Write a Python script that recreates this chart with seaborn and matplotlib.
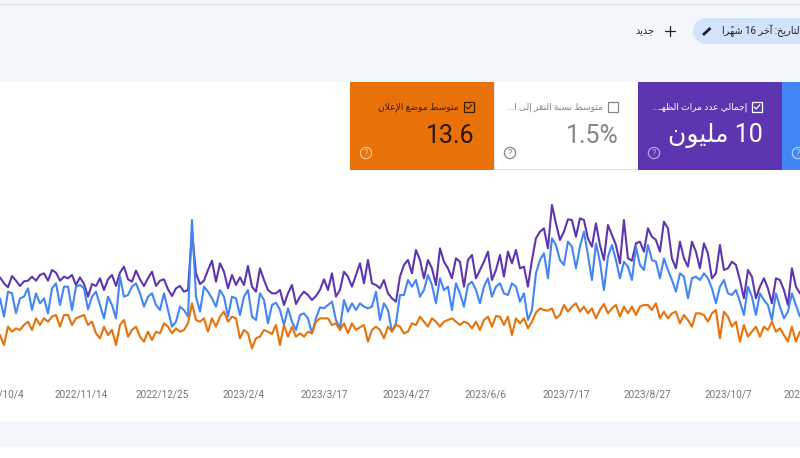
import re
import pandas as pd
import numpy as np
import matplotlib
matplotlib.use("Agg")
import matplotlib.pyplot as plt
from matplotlib.patches import Rectangle, Circle
import seaborn as sns

# readings, arbitrary units (axis has no scale in the screenshot)
impressions = [
    248, 230, 218, 252, 238, 222, 236, 238, 250, 238, 255, 260, 238, 270, 262, 238, 250, 245, 255, 225,
    248, 228, 190, 228, 222, 245, 210, 242, 255, 222, 262, 280, 242, 235, 268, 242, 222, 245, 265, 222,
    238, 242, 212, 192, 215, 222, 205, 210, 385, 260, 228, 238, 270, 298, 235, 290, 265, 215, 255, 225,
    248, 225, 282, 220, 205, 275, 240, 210,
    200, 200, 210, 165, 200, 225, 168, 190, 205, 195, 180, 192, 210, 242, 210, 260, 190, 210, 265, 250,
    220, 255, 290, 230, 300, 230, 225, 215, 240, 200, 185, 175, 250, 285, 300, 260, 330, 300, 245, 300,
    275, 225, 335, 295, 275, 245, 305, 295, 220, 300, 315, 245, 270, 295, 325, 240, 270, 315, 250, 325,
    290, 330, 275, 280, 220, 300, 365, 385,
    395, 335, 465, 410, 360, 385, 422, 420, 370, 425, 420, 365, 340, 410, 345, 300, 405, 375, 345, 290,
    420, 305, 298, 350, 355, 325, 395, 370, 360, 325, 415, 395, 305, 275, 355, 305, 280, 355, 325, 275,
    350, 320, 245, 260, 345, 270, 275, 295, 285, 240, 185, 270, 250, 185, 220, 245, 215, 170, 245, 240,
    210, 165, 275, 220, 200,
]
clicks = [
    185, 130, 205, 200, 140, 185, 190, 215, 150, 200, 170, 185, 140, 215, 230, 165, 220, 220, 150, 220,
    225, 215, 152, 190, 205, 165, 125, 190, 165, 125, 250, 190, 195, 220, 230, 200, 160, 190, 200, 165,
    150, 200, 150, 100, 115, 160, 150, 130, 420, 190, 145, 220, 205, 185, 160, 210, 190, 130, 190, 185,
    135, 190, 210, 130, 120, 200, 180, 110,
    165, 172, 150, 105, 155, 115, 90, 135, 140, 125, 80, 125, 158, 155, 165, 175, 120, 95, 180, 145,
    170, 150, 170, 160, 155, 160, 205, 120, 170, 150, 85, 110, 195, 195, 240, 220, 240, 190, 210, 255,
    225, 170, 245, 210, 220, 150, 230, 200, 160, 225, 235, 210, 170, 220, 245, 190, 220, 230, 200, 195,
    230, 220, 175, 200, 120, 150, 260, 300,
    320, 245, 365, 345, 300, 285, 355, 340, 275, 340, 385, 315, 240, 350, 295, 210, 310, 345, 300, 245,
    295, 280, 240, 340, 285, 270, 345, 300, 295, 245, 305, 270, 240, 205, 260, 250, 185, 245, 250, 240,
    260, 245, 215, 170, 220, 240, 200, 195, 210, 175, 135, 220, 190, 135, 200, 180, 165, 120, 200, 160,
    125, 145, 200, 165, 130,
]
position = [
    75, 45, 100, 85, 95, 90, 105, 115, 90, 125, 105, 125, 115, 130, 135, 100, 135, 135, 105, 125,
    130, 135, 105, 115, 80, 65, 100, 75, 90, 45, 105, 120, 70, 90, 100, 70, 55, 85, 60, 85,
    80, 110, 100, 80, 95, 85, 90, 110, 170, 120, 115, 125, 85, 125, 100, 130, 145, 115, 130, 125,
    65, 90, 80, 35, 65, 70, 90, 85,
    78, 105, 45, 105, 70, 100, 70, 80, 70, 85, 80, 115, 125, 125, 125, 105, 110, 90, 110, 80,
    110, 90, 98, 105, 55, 90, 100, 90, 65, 100, 85, 105, 100, 80, 85, 110, 105, 130, 115, 100,
    125, 115, 100, 115, 120, 125, 115, 105, 115, 110, 95, 115, 90, 120, 130, 100, 132, 130, 105, 130,
    75, 125, 110, 125, 95, 115, 142, 155,
    150, 148, 155, 125, 135, 165, 145, 160, 170, 145, 160, 140, 155, 125, 150, 168, 140, 155, 165, 130,
    160, 140, 160, 135, 160, 165, 165, 150, 170, 125, 145, 125, 140, 145, 110, 135, 120, 100, 140, 140,
    135, 115, 140, 150, 65, 145, 130, 100, 115, 55, 105, 70, 85, 100, 70, 100, 90, 115, 85, 95,
    75, 55, 100, 55, 85,
]
tick_labels = [
    "2022/10/4", "2022/11/14", "2022/12/25", "2023/2/4", "2023/3/17", "2023/4/27",
    "2023/6/6", "2023/7/17", "2023/8/27", "2023/10/7", "2023/11/17",
]
series_names = ["impressions", "clicks", "position"]
series_colors = ["#5e35b1", "#4285f4", "#e8710a"]

BG = "#f3f7fc"
W, H = 800, 458

# arabic presentation forms, matplotlib does no shaping on its own
FORMS = {
    "آ": (0xFE81, 2), "إ": (0xFE87, 2), "ا": (0xFE8D, 2), "ب": (0xFE8F, 4), "ة": (0xFE93, 2),
    "ت": (0xFE95, 4), "ج": (0xFE9D, 4), "خ": (0xFEA5, 4), "د": (0xFEA9, 2), "ر": (0xFEAD, 2),
    "س": (0xFEB1, 4), "ش": (0xFEB5, 4), "ض": (0xFEBD, 4), "ط": (0xFEC1, 4), "ظ": (0xFEC5, 4),
    "ع": (0xFEC9, 4), "ق": (0xFED5, 4), "ل": (0xFEDD, 4), "م": (0xFEE1, 4), "ن": (0xFEE5, 4),
    "ه": (0xFEE9, 4), "و": (0xFEED, 2), "ى": (0xFEEF, 2), "ي": (0xFEF1, 4),
}
LAM_ALEF = {"آ": 0xFEF5, "إ": 0xFEF9, "ا": 0xFEFB}
TATWEEL = "\u0640"
TANWIN = "\u064b"


def joins_next(c):
    return c == TATWEEL or (c in FORMS and FORMS[c][1] == 4)


def joins_prev(c):
    return c == TATWEEL or c in FORMS


def shape(text):
    chars = list(text)
    out = []
    prev = ""
    i = 0
    while i < len(chars):
        c = chars[i]
        if c == TANWIN:
            out.insert(len(out) - 1, c)
            i += 1
            continue
        nxt = ""
        for d in chars[i + 1:]:
            if d != TANWIN:
                nxt = d
                break
        if c == "ل" and nxt in LAM_ALEF:
            out.append(chr(LAM_ALEF[nxt] + (1 if joins_next(prev) else 0)))
            prev = nxt
            i += 2
            continue
        if c in FORMS:
            start, n = FORMS[c]
            before = joins_next(prev)
            after = n == 4 and joins_prev(nxt)
            if before and after:
                k = 3
            elif before:
                k = 1
            elif after:
                k = 2
            else:
                k = 0
            out.append(chr(start + k))
        else:
            out.append(c)
        prev = c
        i += 1
    visual = "".join(out)[::-1]
    return re.sub(r"[0-9]+", lambda m: m.group()[::-1], visual)


def px_axes(fig, x, y, w, h, **kw):
    return fig.add_axes([x / W, 1 - (y + h) / H, w / W, h / H], **kw)


def checkbox(ax, x, y, color, checked=True):
    ax.add_patch(Rectangle((x - 4.7, y - 4.7), 9.4, 9.4, fill=False, ec=color, lw=0.9))
    if checked:
        ax.plot([x - 2.7, x - 0.8, x + 2.8], [y, y + 2, y - 2.2], color=color, lw=0.9)


def help_icon(ax, x, y, color):
    ax.add_patch(Circle((x, y), 5.6, fill=False, ec=color, lw=0.9))
    ax.text(x, y + 0.3, "?", color=color, fontsize=6.5, ha="center", va="center")


sns.set_theme(style="white")
plt.rcParams["font.family"] = ["Roboto", "DejaVu Sans"]

fig = plt.figure(figsize=(W / 100, H / 100), dpi=100, facecolor="white")

# page chrome behind the chart
bg = px_axes(fig, 0, 0, W, H, zorder=0)
bg.set_xlim(0, W)
bg.set_ylim(H, 0)
bg.axis("off")
bg.add_patch(Rectangle((0, 0), W, 82, fc=BG, ec="none"))
bg.add_patch(Rectangle((0, 4), W, 1, fc="#dadde3", ec="none"))
bg.add_patch(Rectangle((0, 421), W, 26, fc=BG, ec="none"))
bg.add_patch(Rectangle((350, 82), 144, 88, fc="#e8710a", ec="none"))
bg.add_patch(Rectangle((494, 82), 144, 88, fc="white", ec="none"))
bg.add_patch(Rectangle((494, 169), 144, 1, fc="#e0e0e0", ec="none"))
bg.add_patch(Rectangle((494, 82), 1, 88, fc="#e8e8e8", ec="none"))
bg.add_patch(Rectangle((638, 82), 144, 88, fc="#5e35b1", ec="none"))
bg.add_patch(Rectangle((782, 82), 18, 88, fc="#4285f4", ec="none"))

# date pill, plus and pencil
bg.add_patch(Rectangle((706, 18), 94, 26, fc="#d3e3fd", ec="none"))
bg.add_patch(Circle((706, 31), 13, fc="#d3e3fd", ec="none"))
bg.plot([703, 710.5], [35, 28], color="#202124", lw=2.0, solid_capstyle="butt")
bg.plot([665, 675], [31, 31], color="#202124", lw=0.9)
bg.plot([670, 670], [25.5, 36], color="#202124", lw=0.9)
bg.text(722, 31, shape("التاريخ: آخر 16 شهرًا"), color="#202124", fontsize=7.0, ha="left", va="center")
bg.text(654, 31, shape("جديد"), color="#202124", fontsize=7.0, ha="right", va="center")

# metric cards
bg.text(459, 107, shape("متوسط موضع الإعلان"), color="#3c2005", fontsize=6.6, ha="right", va="center")
bg.text(603, 107, shape("متوسط نسبة النقر إلى ا..."), color="#80868b", fontsize=6.6, ha="right", va="center")
bg.text(747, 107, shape("إجمالي عدد مرات الظهـ..."), color="white", fontsize=6.6, ha="right", va="center")
checkbox(bg, 469, 107, "#3c2005")
checkbox(bg, 613, 107, "#80868b", checked=False)
checkbox(bg, 757, 107, "white")
bg.text(475, 136, "13.6", color="#2a1703", fontsize=18, ha="right", va="center")
bg.text(619, 136, "1.5%", color="#80868b", fontsize=18, ha="right", va="center")
bg.text(763, 136, shape("مليون") + " 10", color="white", fontsize=18, ha="right", va="center")
help_icon(bg, 366, 153, "#f5c49a")
help_icon(bg, 510, 153, "#80868b")
help_icon(bg, 654, 153, "#b9a7dc")
help_icon(bg, 798, 153, "#b5cffa")

# chart, axes run past the figure so the cut off tick labels still get drawn
start = pd.Timestamp("2022-10-04")
n_points = len(impressions)
dates = pd.date_range(start, "2023-11-12", periods=n_points)
table = pd.DataFrame({"date": dates, "impressions": impressions, "clicks": clicks, "position": position})
long_table = table.melt(id_vars="date", value_vars=series_names, var_name="series", value_name="value")

px_per_day = 1.98
ax = px_axes(fig, -44, 180, 888, 180, zorder=1)
ax.patch.set_alpha(0)
sns.lineplot(
    data=long_table, x="date", y="value", hue="series", hue_order=series_names,
    palette=series_colors, linewidth=1.5, legend=False, errorbar=None, estimator=None, ax=ax,
)
ax.set_xlim(start - pd.Timedelta(days=44 / px_per_day), start + pd.Timedelta(days=844 / px_per_day))
ax.set_ylim(0, 540)
ax.set_xticks(pd.to_datetime(tick_labels, format="%Y/%m/%d"))
ax.set_xticklabels(tick_labels)
ax.set_yticks([])
ax.set_xlabel("")
ax.set_ylabel("")
ax.tick_params(axis="x", length=0, pad=21, labelsize=7.2, labelcolor="#70757a")
sns.despine(ax=ax, left=True, bottom=True)

fig.savefig("out.png", dpi=100)
